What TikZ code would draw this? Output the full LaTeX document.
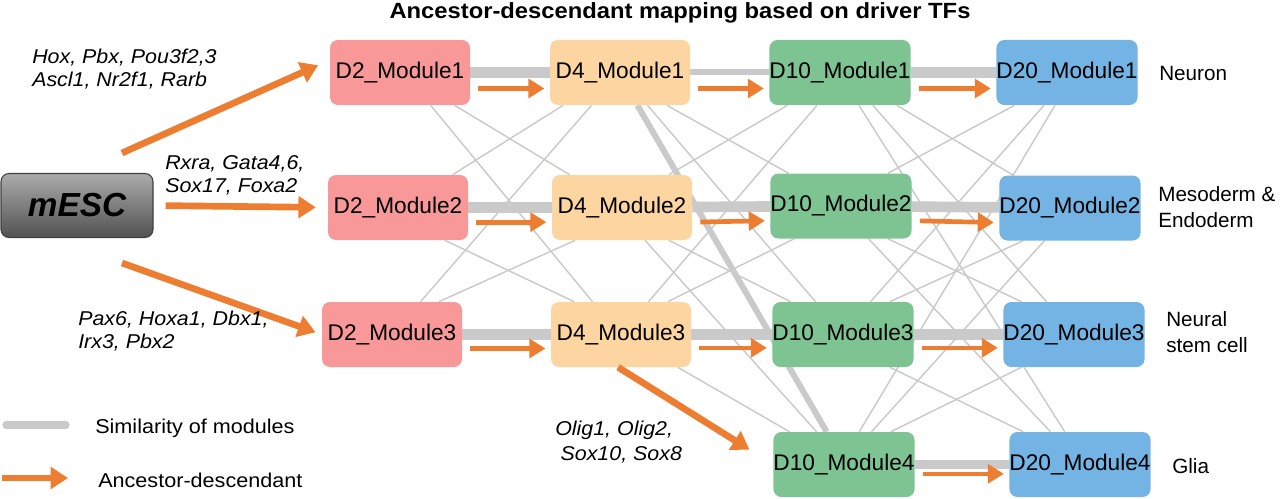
\documentclass[tikz,border=0pt]{standalone}
\usepackage{fontspec}
\setmainfont{Liberation Sans}
\newfontfamily\widefont[FakeStretch=1.08]{Liberation Sans}
\newfontfamily\genefont[FakeStretch=1.07]{Liberation Sans}
\usetikzlibrary{arrows.meta,backgrounds}
\definecolor{dtwo}{RGB}{248,152,152}
\definecolor{dfour}{RGB}{253,213,160}
\definecolor{dten}{RGB}{126,196,146}
\definecolor{dtwenty}{RGB}{116,180,228}
\definecolor{arr}{RGB}{237,125,49}
\definecolor{sim}{RGB}{202,202,202}
\begin{document}
\begin{tikzpicture}[x=0.75pt,y=-0.75pt,
    mod/.style={rounded corners=6pt,minimum width=105pt,minimum height=48.75pt,inner sep=0pt,font=\fontsize{17}{20}\selectfont},
    web/.style={draw=sim,line width=1.1pt},
    bar/.style={draw=sim,line width=8pt},
    flow/.style={draw=arr,line width=3.5pt,-{Triangle[length=12pt,width=14pt]},shorten <=6pt,shorten >=4pt},
    bigflow/.style={draw=arr,line width=5pt,-{Triangle[length=13pt,width=16pt]}},
    gene/.style={anchor=west,align=left,inner sep=0pt,font=\genefont\itshape\fontsize{15}{17.25}\selectfont},
    fate/.style={anchor=west,align=left,inner sep=0pt,font=\fontsize{15.5}{19.5}\selectfont},
    legend/.style={anchor=west,inner sep=0pt,font=\widefont\fontsize{15}{18}\selectfont}]
  \useasboundingbox (0,0) rectangle (1280,499);
  \node[font=\widefont\bfseries\fontsize{16.5}{18}\selectfont] (title) at (680,13) {Ancestor-descendant mapping based on driver TFs};
  \node[rounded corners=6pt,minimum width=114pt,minimum height=48pt,draw=black!75,line width=0.8pt,top color=black!33,bottom color=black!68,font=\bfseries\itshape\fontsize{25}{28}\selectfont] (mESC) at (77,205.5) {mESC};
  \node[mod,fill=dtwo] (D2M1) at (400,72.5) {D2\_Module1};
  \node[mod,fill=dtwo] (D2M2) at (398,207.5) {D2\_Module2};
  \node[mod,fill=dtwo] (D2M3) at (392,334.5) {D2\_Module3};
  \node[mod,fill=dfour] (D4M1) at (620,72.5) {D4\_Module1};
  \node[mod,fill=dfour] (D4M2) at (622,207.5) {D4\_Module2};
  \node[mod,fill=dfour] (D4M3) at (621,334.5) {D4\_Module3};
  \node[mod,fill=dten] (D10M1) at (840,72.5) {D10\_Module1};
  \node[mod,fill=dten] (D10M2) at (841,206) {D10\_Module2};
  \node[mod,fill=dten] (D10M3) at (843,334.5) {D10\_Module3};
  \node[mod,fill=dten] (D10M4) at (844,464.5) {D10\_Module4};
  \node[mod,fill=dtwenty] (D20M1) at (1067,72.5) {D20\_Module1};
  \node[mod,fill=dtwenty] (D20M2) at (1070,208) {D20\_Module2};
  \node[mod,fill=dtwenty] (D20M3) at (1074,334.5) {D20\_Module3};
  \node[mod,fill=dtwenty] (D20M4) at (1080,464.5) {D20\_Module4};
  \begin{scope}[on background layer]
    \draw[bar] (D2M1) -- (D4M1);
    \draw[bar,line width=4.5pt] (D4M1) -- (D10M1);
    \draw[bar] (D10M1) -- (D20M1);
    \draw[bar] (D2M2) -- (D4M2);
    \draw[bar] (D4M2) -- (D10M2);
    \draw[bar] (D10M2) -- (D20M2);
    \draw[bar] (D2M3) -- (D4M3);
    \draw[bar] (D4M3) -- (D10M3);
    \draw[bar] (D10M3) -- (D20M3);
    \draw[bar,line width=7pt] (D10M4) -- (D20M4);
    \draw[bar,line width=4.5pt] (D4M1.-62) -- (D10M4.118);
    \draw[web] (D2M1.-47) -- (D4M3.131);
    \draw[web] (D2M1.-31) -- (D4M2.148);
    \draw[web] (D4M1.-150) -- (D2M2.31);
    \draw[web] (D4M1.-131) -- (D2M3.49);
    \draw[web] (D2M2.-35) -- (D4M3.145);
    \draw[web] (D4M2.-145) -- (D2M3.35);
    \draw[web] (D4M1.-35) -- (D10M2.148);
    \draw[web] (D4M1.-50) -- (D10M3.130);
    \draw[web] (D4M2.-35) -- (D10M3.148);
    \draw[web] (D4M2.-55) -- (D10M4.130);
    \draw[web] (D4M3.-30) -- (D10M4.149);
    \draw[web] (D4M2.35) -- (D10M1.-148);
    \draw[web] (D4M3.50) -- (D10M1.-125);
    \draw[web] (D4M3.35) -- (D10M2.-145);
    \draw[web] (D10M1.-30) -- (D20M2.150);
    \draw[web] (D10M1.-45) -- (D20M3.130);
    \draw[web] (D10M1.-60) -- (D20M4.115);
    \draw[web] (D10M2.-35) -- (D20M3.148);
    \draw[web] (D10M2.-50) -- (D20M4.132);
    \draw[web] (D10M3.-35) -- (D20M4.150);
    \draw[web] (D10M2.35) -- (D20M1.-148);
    \draw[web] (D10M3.50) -- (D20M1.-125);
    \draw[web] (D10M3.35) -- (D20M2.-145);
    \draw[web] (D10M4.65) -- (D20M1.-110);
    \draw[web] (D10M4.50) -- (D20M2.-128);
    \draw[web] (D10M4.35) -- (D20M3.-148);
  \end{scope}
  \draw[flow] ([yshift=-12pt]D2M1.east) -- ([yshift=-12pt]D4M1.west);
  \draw[flow] ([yshift=-12pt]D4M1.east) -- ([yshift=-12pt]D10M1.west);
  \draw[flow] ([yshift=-12pt]D10M1.east) -- ([yshift=-12pt]D20M1.west);
  \draw[flow] ([yshift=-11pt]D2M2.east) -- ([yshift=-11pt]D4M2.west);
  \draw[flow] ([yshift=-11pt]D4M2.east) -- ([yshift=-11pt]D10M2.west);
  \draw[flow] ([yshift=-11pt]D10M2.east) -- ([yshift=-11pt]D20M2.west);
  \draw[flow] ([yshift=-10.5pt]D2M3.east) -- ([yshift=-10.5pt]D4M3.west);
  \draw[flow] ([yshift=-10pt]D4M3.east) -- ([yshift=-10pt]D10M3.west);
  \draw[flow] ([yshift=-10pt]D10M3.east) -- ([yshift=-10pt]D20M3.west);
  \draw[flow] ([yshift=-7pt]D10M4.east) -- ([yshift=-7pt]D20M4.west);
  \coordinate (upstart) at (122,153);
  \coordinate (downstart) at (122,263);
  \draw[bigflow,shorten >=9.5pt] (upstart) -- (D2M1.170);
  \draw[bigflow,shorten <=9pt,shorten >=9pt] (mESC.east) -- (D2M2.west);
  \draw[bigflow,shorten >=5pt] (downstart) -- (D2M3.west);
  \draw[bigflow,shorten >=21pt] (D4M3.-95) -- (D10M4.west);
  \node[gene] (genesA) at (32,69) {Hox, Pbx, Pou3f2,3\\Ascl1, Nr2f1, Rarb};
  \node[gene] (genesB) at (165,175) {Rxra, Gata4,6,\\Sox17, Foxa2};
  \node[gene] (genesC) at (78,331) {Pax6, Hoxa1, Dbx1,\\Irx3, Pbx2};
  \node[gene,font=\genefont\itshape\fontsize{15}{18.75}\selectfont] (genesD) at (555,442) {Olig1, Olig2,\\\hspace*{4pt}Sox10, Sox8};
  \node[fate] (neuron) at (1159,73) {Neuron};
  \node[fate] (meso) at (1158,207) {Mesoderm \&\\Endoderm};
  \node[fate] (nsc) at (1166,332) {Neural\\stem cell};
  \node[fate] (glia) at (1172,466) {Glia};
  \coordinate (simL) at (6,425);
  \coordinate (simR) at (66,425);
  \draw[draw=sim,line width=5.5pt,line cap=round] (simL) -- (simR);
  \node[legend] (simtext) at (95,428) {Similarity of modules};
  \coordinate (arrL) at (2,478);
  \coordinate (arrR) at (68,478);
  \draw[bigflow,line width=4.5pt] (arrL) -- (arrR);
  \node[legend] (arrtext) at (98,480) {Ancestor-descendant};
\end{tikzpicture}
\end{document}
